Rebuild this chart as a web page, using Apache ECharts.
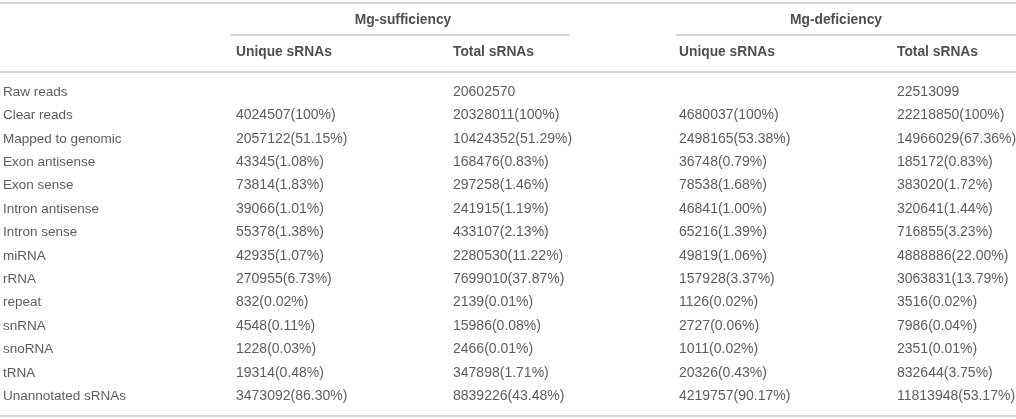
<!DOCTYPE html>
<html>
<head>
<meta charset="utf-8">
<title>sRNA table</title>
<script src="https://cdn.jsdelivr.net/npm/echarts@6/dist/echarts.min.js"></script>
<style>
  html, body { margin: 0; padding: 0; background: #fff; }
  #main { width: 1016px; height: 419px; }
</style>
</head>
<body>
<div id="main"></div>
<script>
// table contents
const rowLabels = [
  "Raw reads", "Clear reads", "Mapped to genomic", "Exon antisense", "Exon sense",
  "Intron antisense", "Intron sense", "miRNA", "rRNA", "repeat", "snRNA",
  "snoRNA", "tRNA", "Unannotated sRNAs"
]
const groupLabels = ["Mg-sufficiency", "Mg-deficiency"]
const subLabels = ["Unique sRNAs", "Total sRNAs", "Unique sRNAs", "Total sRNAs"]

const suffUniqueCount = [null, 4024507, 2057122, 43345, 73814, 39066, 55378, 42935, 270955, 832, 4548, 1228, 19314, 3473092]
const suffUniquePct = [null, "100", "51.15", "1.08", "1.83", "1.01", "1.38", "1.07", "6.73", "0.02", "0.11", "0.03", "0.48", "86.30"]
const suffTotalCount = [20602570, 20328011, 10424352, 168476, 297258, 241915, 433107, 2280530, 7699010, 2139, 15986, 2466, 347898, 8839226]
const suffTotalPct = [null, "100", "51.29", "0.83", "1.46", "1.19", "2.13", "11.22", "37.87", "0.01", "0.08", "0.01", "1.71", "43.48"]
const defUniqueCount = [null, 4680037, 2498165, 36748, 78538, 46841, 65216, 49819, 157928, 1126, 2727, 1011, 20326, 4219757]
const defUniquePct = [null, "100", "53.38", "0.79", "1.68", "1.00", "1.39", "1.06", "3.37", "0.02", "0.06", "0.02", "0.43", "90.17"]
const defTotalCount = [22513099, 22218850, 14966029, 185172, 383020, 320641, 716855, 4888886, 3063831, 3516, 7986, 2351, 832644, 11813948]
const defTotalPct = [null, "100", "67.36", "0.83", "1.72", "1.44", "3.23", "22.00", "13.79", "0.02", "0.04", "0.01", "3.75", "53.17"]

// layout (x in px across the grid, y in row units)
const labelX = 3
const colX = [236, 453, 679, 897]
const groupCenterX = [403, 836]
const groupRule = [[231, 569], [676, 1016]]
const headerY = [-3.05, -1.72]
const ruleTopY = -3.82
const ruleGroupY = -2.45
const ruleHeadY = -0.885
const ruleBottomY = 13.85

const family = "Liberation Sans, Arial, Helvetica, sans-serif"
const labelFont = { fontFamily: family, fontSize: 13.5, color: "#333" }
const numFont = { fontFamily: family, fontSize: 14, color: "#333" }
const headFont = { fontFamily: family, fontSize: 13.8, fontWeight: "bold", color: "#222" }

const cell = (count, pct) => {
  if (count == null) return ""
  return pct == null ? String(count) : `${count}(${pct}%)`
}

const columns = [
  suffUniqueCount.map((c, i) => cell(c, suffUniquePct[i])),
  suffTotalCount.map((c, i) => cell(c, suffTotalPct[i])),
  defUniqueCount.map((c, i) => cell(c, defUniquePct[i])),
  defTotalCount.map((c, i) => cell(c, defTotalPct[i])),
]

const textSeries = (data, font, align) => ({
  type: "scatter",
  symbolSize: 1,
  itemStyle: { color: "rgba(0,0,0,0)" },
  silent: true,
  data,
  label: {
    show: true,
    position: "inside",
    align: align || "left",
    verticalAlign: "middle",
    formatter: p => p.data[2],
    ...font,
  },
})

const rule = (x1, x2, y) => [{ coord: [x1, y] }, { coord: [x2, y] }]

const chart = echarts.init(document.getElementById("main"))

chart.setOption({
  animation: false,
  backgroundColor: "#fff",
  grid: { left: 0, right: 0, top: 0.74, bottom: 1.74 },
  xAxis: { type: "value", min: 0, max: 1016, show: false },
  yAxis: { type: "value", min: -3.9, max: 13.9, inverse: true, show: false },
  series: [
    textSeries(rowLabels.map((t, i) => [labelX, i, t]), labelFont),
    ...columns.map((col, c) =>
      textSeries(col.map((t, i) => [colX[c], i, t]).filter(d => d[2] !== ""), numFont)
    ),
    textSeries(subLabels.map((t, c) => [colX[c], headerY[1], t]), headFont),
    textSeries(groupLabels.map((t, g) => [groupCenterX[g], headerY[0], t]), headFont, "center"),
    {
      type: "scatter",
      data: [],
      silent: true,
      markLine: {
        silent: true,
        symbol: ["none", "none"],
        label: { show: false },
        lineStyle: { color: "#c4c4c4", width: 1.5, type: "solid" },
        data: [
          rule(0, 1016, ruleTopY),
          rule(groupRule[0][0], groupRule[0][1], ruleGroupY),
          rule(groupRule[1][0], groupRule[1][1], ruleGroupY),
          rule(0, 1016, ruleHeadY),
          rule(0, 1016, ruleBottomY),
        ],
      },
    },
  ],
})
</script>
</body>
</html>
